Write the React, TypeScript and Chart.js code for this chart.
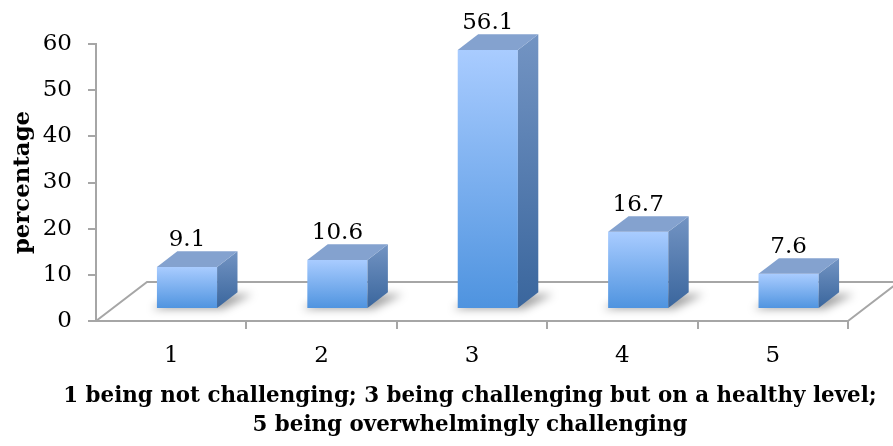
import { useEffect, useRef } from 'react';
import { Chart, registerables } from 'chart.js';

Chart.register(...registerables);

// Survey answers: share of respondents (%) for each rating
const categories = ['1', '2', '3', '4', '5'];
const percentages = [9.1, 10.6, 56.1, 16.7, 7.6];
const yTicks = [0, 10, 20, 30, 40, 50, 60];
const yTitle = 'percentage';
const xTitle = [
  '1 being not challenging; 3 being challenging but on a healthy level;',
  '5 being overwhelmingly challenging',
];

const SERIF = '"DejaVu Serif", "Liberation Serif", serif';
const AXIS_GRAY = '#a6a6a6';
const NUM_SIZE = 23;
const Y_TITLE_SIZE = 22.8;
const X_TITLE_SIZE = 21.4;
const TITLE_LINE = 29;

// Perspective of the floor: depth vector from front edge to back edge
const FLOOR_DX = 51;
const FLOOR_DY = -39;
// Bars sit inside the floor depth: front face at 31 %, box depth 40 %
const BAR_FRONT = 0.31;
const BAR_DEPTH = 0.4;

const frontShift = () => ({ sx: FLOOR_DX * BAR_FRONT, sy: FLOOR_DY * BAR_FRONT });
const boxDepth = () => ({ dx: FLOOR_DX * BAR_DEPTH, dy: FLOOR_DY * BAR_DEPTH });

const bars3d = {
  id: 'bars3d',
  beforeDatasetsDraw(chart: any) {
    const { ctx, chartArea: a } = chart;
    const { sx, sy } = frontShift();
    const { dx, dy } = boxDepth();

    // floor outline (front edge is the x-axis border)
    ctx.save();
    ctx.strokeStyle = AXIS_GRAY;
    ctx.lineWidth = 2;
    ctx.beginPath();
    ctx.moveTo(a.left, a.bottom);
    ctx.lineTo(a.left + FLOOR_DX, a.bottom + FLOOR_DY);
    ctx.lineTo(a.right + FLOOR_DX, a.bottom + FLOOR_DY);
    ctx.lineTo(a.right, a.bottom);
    ctx.stroke();

    // soft shadows on the floor under each box
    const meta = chart.getDatasetMeta(0);
    ctx.filter = 'blur(4px)';
    ctx.fillStyle = 'rgba(0,0,0,0.36)';
    meta.data.forEach((bar: any) => {
      const { x, base, width } = bar.getProps(['x', 'base', 'width'], true);
      const x0 = x - width / 2 + sx;
      const x1 = x + width / 2 + sx;
      const yb = base + sy;
      ctx.beginPath();
      ctx.moveTo(x0 - 5, yb + 1);
      ctx.lineTo(x1 + 6, yb + 1);
      ctx.lineTo(x1 + dx + 15, yb + dy + 2);
      ctx.lineTo(x0 + dx, yb + dy + 2);
      ctx.closePath();
      ctx.fill();
    });
    ctx.restore();

    // front faces are drawn by Chart.js, pushed back into the floor
    ctx.save();
    ctx.translate(sx, sy);
  },
  afterDatasetsDraw(chart: any) {
    const { ctx } = chart;
    ctx.restore();
    const { sx, sy } = frontShift();
    const { dx, dy } = boxDepth();
    const meta = chart.getDatasetMeta(0);

    ctx.save();
    meta.data.forEach((bar: any, i: number) => {
      const { x, y, base, width } = bar.getProps(['x', 'y', 'base', 'width'], true);
      const x0 = x - width / 2 + sx;
      const x1 = x + width / 2 + sx;
      const yt = y + sy;
      const yb = base + sy;

      // right side face
      const side = ctx.createLinearGradient(0, yt + dy, 0, yb);
      side.addColorStop(0, '#7394c3');
      side.addColorStop(1, '#3a669d');
      ctx.fillStyle = side;
      ctx.beginPath();
      ctx.moveTo(x1, yt);
      ctx.lineTo(x1 + dx, yt + dy);
      ctx.lineTo(x1 + dx, yb + dy);
      ctx.lineTo(x1, yb);
      ctx.closePath();
      ctx.fill();

      // top face
      ctx.fillStyle = '#84a2cf';
      ctx.beginPath();
      ctx.moveTo(x0, yt);
      ctx.lineTo(x1, yt);
      ctx.lineTo(x1 + dx, yt + dy);
      ctx.lineTo(x0 + dx, yt + dy);
      ctx.closePath();
      ctx.fill();

      // value label above the box
      ctx.fillStyle = '#000';
      ctx.font = `${NUM_SIZE}px ${SERIF}`;
      ctx.textAlign = 'center';
      ctx.textBaseline = 'alphabetic';
      ctx.fillText(String(percentages[i]), x + sx, yt + dy - 5);
    });
    ctx.restore();
  },
  afterDraw(chart: any) {
    // two-line category axis title, centred under the plot, wider than the axis
    const { ctx, chartArea: a } = chart;
    ctx.save();
    ctx.fillStyle = '#000';
    ctx.font = `bold ${X_TITLE_SIZE}px ${SERIF}`;
    ctx.textAlign = 'center';
    ctx.textBaseline = 'middle';
    const cx = (a.left + a.right) / 2 - 2;
    xTitle.forEach((line, i) => {
      ctx.fillText(line, cx, 396 + i * TITLE_LINE);
    });
    ctx.restore();
  },
};

export default function App() {
  const canvasRef = useRef<HTMLCanvasElement | null>(null);

  useEffect(() => {
    document.body.style.margin = '0';
    const canvas = canvasRef.current;
    if (!canvas) return;

    const frontGradient = (c: any) => {
      const chart = c.chart;
      const yScale = chart.scales?.y;
      if (!yScale || c.dataIndex === undefined) return '#7ab0f0';
      const top = yScale.getPixelForValue(percentages[c.dataIndex]);
      const bottom = yScale.getPixelForValue(0);
      if (!Number.isFinite(top) || !Number.isFinite(bottom) || top === bottom) return '#7ab0f0';
      const g = chart.ctx.createLinearGradient(0, top, 0, bottom);
      g.addColorStop(0, '#a9ccff');
      g.addColorStop(1, '#4e93df');
      return g;
    };

    const chart = new Chart(canvas, {
      type: 'bar',
      data: {
        labels: categories,
        datasets: [
          {
            data: percentages,
            backgroundColor: frontGradient,
            borderWidth: 0,
            barPercentage: 0.4,
            categoryPercentage: 1,
            clip: false as any,
          },
        ],
      },
      options: {
        responsive: false,
        animation: false,
        devicePixelRatio: 1,
        layout: { padding: { top: 44, right: 45, left: 0, bottom: 0 } },
        plugins: {
          legend: { display: false },
          tooltip: { enabled: false },
        },
        scales: {
          x: {
            offset: true,
            grid: {
              offset: true,
              drawOnChartArea: false,
              drawTicks: true,
              tickLength: 8,
              color: (c: any) => (c.index === 0 ? 'rgba(0,0,0,0)' : AXIS_GRAY),
              lineWidth: 2,
            },
            border: { color: AXIS_GRAY, width: 2 },
            ticks: { color: '#000', font: { family: SERIF, size: NUM_SIZE }, padding: 13 },
            title: { display: false },
            afterFit: (s: any) => {
              s.height = 125;
            },
          },
          y: {
            min: 0,
            max: 60,
            afterBuildTicks: (s: any) => {
              s.ticks = yTicks.map((v) => ({ value: v }));
            },
            grid: {
              drawOnChartArea: false,
              drawTicks: true,
              tickLength: 8,
              color: AXIS_GRAY,
              lineWidth: 2,
            },
            border: { color: AXIS_GRAY, width: 2 },
            ticks: { color: '#000', font: { family: SERIF, size: NUM_SIZE }, padding: 16 },
            title: {
              display: true,
              text: yTitle,
              color: '#000',
              font: { family: SERIF, size: Y_TITLE_SIZE, weight: 'bold', lineHeight: 1.2 },
              padding: { top: 9, bottom: 0 },
            },
            afterFit: (s: any) => {
              s.width = 96;
            },
          },
        },
      } as any,
      plugins: [bars3d],
    });

    return () => chart.destroy();
  }, []);

  return (
    <div style={{ width: 893, height: 446, position: 'relative', background: '#fff' }}>
      <canvas ref={canvasRef} width={893} height={446} />
    </div>
  );
}
